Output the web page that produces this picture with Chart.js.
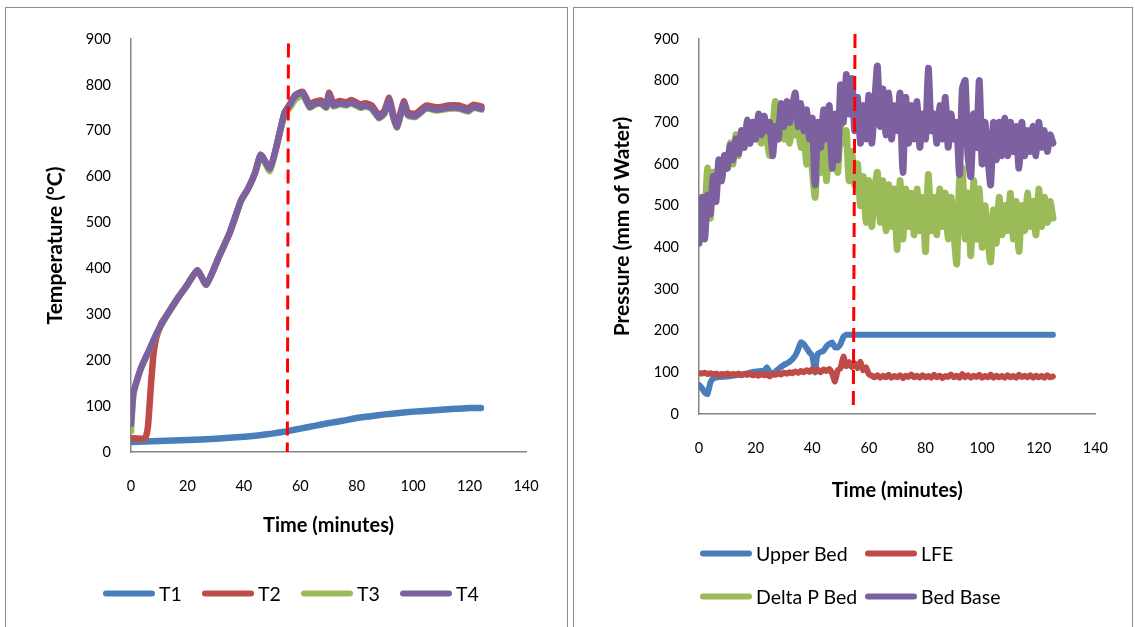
<!DOCTYPE html>
<html>
<head>
<meta charset="utf-8">
<script src="https://cdn.jsdelivr.net/npm/chart.js@4.4.1/dist/chart.umd.min.js"></script>
<style>
  body { margin: 0; background: #fff; width: 1135px; height: 627px; overflow: hidden; position: relative; font-family: Lato, sans-serif; }
  .panel { position: absolute; top: 7px; height: 640px; border: 1px solid #8c8c8c; box-sizing: border-box; }
  .panel canvas { position: absolute; left: 0; top: 0; }
  .leg { position: absolute; display: flex; align-items: center; font-size: 19.5px; color: #000; transform: translateY(-50%); white-space: nowrap; }
  .leg span.line { display: inline-block; width: 52px; height: 6px; border-radius: 3px; margin-right: 4px; }
</style>
</head>
<body>
<div class="panel" style="left:5px; width:563px;">
  <canvas id="tempChart" width="562" height="620"></canvas>
</div>
<div class="panel" style="left:573px; width:560px;">
  <canvas id="presChart" width="560" height="620"></canvas>
</div>
<div id="legends"></div>
<script>
// ---- temperature chart data (minutes, degC) ----
const t1Time = [0, 10, 20, 30, 40, 45, 50, 55, 60, 65, 70, 75, 80, 85, 90, 95, 100, 105, 110, 115, 120, 124];
const t1Temp = [22, 24, 26, 29, 33, 36, 40, 45, 51, 57, 63, 68, 74, 78, 82, 85, 88, 90, 92, 94, 96, 96];

const t2Time = [0, 5, 6, 7, 8, 9, 10, 11, 12.5, 17, 19.6, 23.5, 26.7, 31.2, 35, 37, 39, 41.5, 44, 46, 49.2, 51.2, 54.4, 56.3, 58.2, 60.8, 63.4, 65, 67.3, 69.2, 70.2, 71.8, 74, 76.3, 78, 81.4, 83, 85.3, 87.9, 89.8, 91.5, 93, 94.3, 96.7, 98.2, 100.8, 104.6, 108.5, 112.4, 116.2, 119.5, 121.4, 124.2];
const t2Temp = [30, 30, 55, 140, 215, 250, 268, 283, 296, 339, 361, 396, 365, 426, 478, 513, 548, 574, 609, 648, 617, 657, 739, 758, 778, 785, 757, 763, 766, 757, 783, 760, 765, 762, 767, 757, 760, 755, 734, 744, 772, 735, 714, 764, 740, 737, 755, 751, 755, 755, 749, 757, 753];

const t34Time = [0, 0.9, 3.5, 6.7, 9.3, 12.5, 17, 19.6, 23.5, 26.7, 31.2, 35, 37, 39, 41.5, 44, 46, 49.2, 51.2, 54.4, 56.3, 58.2, 60.8, 63.4, 65, 67.3, 69.2, 70.2, 71.8, 74, 76.3, 78, 81.4, 83, 85.3, 87.9, 89.8, 91.5, 93, 94.3, 96.7, 98.2, 100.8, 104.6, 108.5, 112.4, 116.2, 119.5, 121.4, 124.2];
const t3Temp = [45, 128, 181, 225, 260, 296, 339, 361, 396, 365, 426, 478, 513, 548, 574, 609, 645, 612, 655, 735, 750, 768, 778, 750, 756, 759, 750, 774, 753, 758, 755, 760, 750, 753, 748, 727, 737, 764, 728, 707, 756, 733, 730, 748, 744, 748, 748, 742, 750, 746];
const t4Temp = [61, 130, 183, 226, 261, 296, 339, 361, 396, 365, 426, 478, 513, 548, 574, 609, 648, 617, 657, 739, 757, 776, 783, 752, 758, 761, 752, 778, 755, 760, 757, 762, 752, 755, 750, 729, 739, 767, 730, 709, 759, 735, 732, 750, 746, 750, 750, 744, 752, 748];

// ---- pressure chart data (minutes, mm of water) ----
const upperBedTime = [0, 1, 2, 3, 4, 5, 7, 10, 15, 20, 23, 24, 25, 26, 28, 30, 32, 34, 35, 36, 37, 38, 39, 40, 41, 41.5, 42, 44, 45, 46, 47, 48, 49, 50, 51, 52, 125];
const upperBed = [70, 62, 52, 48, 75, 85, 89, 90, 95, 102, 104, 112, 100, 97, 108, 118, 125, 140, 155, 172, 168, 158, 148, 140, 100, 130, 145, 152, 162, 168, 172, 160, 160, 168, 185, 190, 190];

// one reading per minute, 0..125
const lfe = [98, 97, 99, 96, 98, 95, 97, 94, 96, 95, 97, 94, 96, 95, 97, 93, 96, 94, 97, 93,
  95, 92, 96, 93, 95, 90, 96, 94, 98, 95, 99, 97, 100, 98, 102, 99, 103, 100, 105, 101,
  108, 102, 106, 100, 107, 103, 108, 98, 78, 105, 110, 138, 115, 125, 112, 122, 110, 125, 105, 112,
  95, 92, 88, 93, 87, 92, 88, 94, 87, 91, 88, 93, 86, 92, 89, 95, 88, 92, 87, 93,
  88, 91, 87, 94, 88, 92, 86, 91, 89, 95, 88, 92, 87, 96, 88, 93, 87, 92, 89, 94,
  87, 91, 88, 95, 87, 92, 88, 91, 87, 93, 88, 91, 87, 94, 89, 92, 88, 93, 87, 92,
  88, 91, 87, 93, 88, 90];
const deltaPBed = [430, 510, 460, 590, 470, 580, 540, 600, 560, 620, 590, 650, 600, 670, 620, 680, 640, 690, 650, 700,
  660, 690, 650, 700, 660, 620, 680, 750, 660, 700, 660, 690, 650, 700, 670, 690, 640, 680, 600, 660,
  590, 520, 640, 580, 670, 560, 650, 590, 660, 580, 690, 650, 680, 560, 630, 550, 600, 500, 570, 460,
  560, 450, 540, 580, 460, 560, 440, 550, 450, 540, 395, 560, 420, 540, 450, 530, 430, 540, 440, 520,
  390, 575, 440, 520, 430, 540, 450, 530, 420, 520, 440, 360, 560, 590, 420, 530, 380, 560, 420, 540,
  400, 500, 420, 365, 490, 410, 520, 430, 500, 440, 530, 420, 510, 390, 500, 440, 530, 450, 510, 430,
  540, 450, 520, 460, 510, 470];
const bedBase = [410, 520, 420, 525, 480, 570, 510, 610, 560, 620, 590, 645, 610, 660, 625, 680, 640, 705, 650, 700,
  660, 720, 670, 715, 680, 700, 620, 690, 660, 745, 690, 750, 700, 740, 770, 690, 745, 680, 730, 660,
  710, 550, 700, 640, 730, 660, 740, 590, 720, 610, 790, 700, 815, 720, 805, 680, 760, 650, 740, 660,
  765, 650, 740, 835, 690, 780, 670, 770, 660, 740, 680, 770, 580, 760, 650, 740, 660, 750, 640, 720,
  660, 830, 680, 720, 650, 740, 660, 760, 640, 720, 660, 700, 575, 780, 800, 620, 570, 720, 640, 800,
  600, 700, 620, 550, 700, 610, 700, 620, 710, 620, 700, 630, 690, 590, 700, 620, 680, 630, 690, 620,
  700, 640, 680, 630, 670, 650];

// time of the marked event (red dashed line)
const tempEventTime = [55.8, 55.4];
const tempEventTemp = [890, 0];
const presEventTime = [55.1, 54.5];
const presEventPres = [912, 5];

const yTicks = { min: 0, max: 900, step: 100 };
const xTicks = { min: 0, max: 140, step: 20 };

const colors = { blue: '#4A7EBB', red: '#BE4B48', green: '#9BBB59', purple: '#7D60A0' };

function pts(xs, ys) {
  return xs.map((x, i) => ({ x: x, y: ys[i] }));
}

function series(label, data, color, order, width) {
  return {
    label: label,
    data: data,
    borderColor: color,
    backgroundColor: color,
    borderWidth: width,
    pointRadius: 0,
    tension: 0.15,
    borderCapStyle: 'round',
    borderJoinStyle: 'round',
    fill: false,
    order: order
  };
}

function eventLine(xs, ys) {
  return {
    label: 'event',
    data: pts(xs, ys),
    borderColor: '#FF0000',
    borderWidth: 3,
    borderDash: [14, 7],
    pointRadius: 0,
    clip: false,
    order: 0
  };
}

function makeOptions(yTitle, pad, yWidth, xHeight) {
  return {
    responsive: false,
    animation: false,
    devicePixelRatio: 1,
    layout: { padding: pad },
    plugins: { legend: { display: false }, tooltip: { enabled: false } },
    scales: {
      x: {
        type: 'linear',
        min: xTicks.min,
        max: xTicks.max,
        grid: { display: false, drawTicks: false },
        border: { display: true, color: '#868686', width: 1.5 },
        ticks: { stepSize: xTicks.step, padding: 26, color: '#000', font: { family: 'Lato', size: 14.5 } },
        title: { display: true, text: 'Time (minutes)', color: '#000', padding: 0, font: { family: 'Lato', size: 20, weight: 'bold' } },
        afterFit: (scale) => { scale.height = xHeight; }
      },
      y: {
        min: yTicks.min,
        max: yTicks.max,
        grid: { display: false, drawTicks: false },
        border: { display: true, color: '#868686', width: 1.5 },
        ticks: { stepSize: yTicks.step, padding: 20, color: '#000', font: { family: 'Lato', size: 14.5 } },
        title: { display: true, text: yTitle, color: '#000', padding: 0, font: { family: 'Lato', size: 21, weight: 'bold' } },
        afterFit: (scale) => { scale.width = yWidth; }
      }
    }
  };
}

new Chart(document.getElementById('tempChart'), {
  type: 'line',
  data: {
    datasets: [
      series('T1', pts(t1Time, t1Temp), colors.blue, 4, 6.5),
      series('T2', pts(t2Time, t2Temp), colors.red, 3, 6.5),
      series('T3', pts(t34Time, t3Temp), colors.green, 2, 6.5),
      series('T4', pts(t34Time, t4Temp), colors.purple, 1, 6.5),
      eventLine(tempEventTime, tempEventTemp)
    ]
  },
  options: makeOptions('Temperature (°C)', { left: 37, top: 31, right: 42, bottom: 90 }, 88, 86)
});

const minutes = bedBase.map((_, i) => i);

new Chart(document.getElementById('presChart'), {
  type: 'line',
  data: {
    datasets: [
      series('Upper Bed', pts(upperBedTime, upperBed), colors.blue, 4, 6),
      series('LFE', pts(minutes, lfe), colors.red, 3, 6),
      series('Delta P Bed', pts(minutes, deltaPBed), colors.green, 2, 7),
      series('Bed Base', pts(minutes, bedBase), colors.purple, 1, 7),
      eventLine(presEventTime, presEventPres)
    ]
  },
  options: makeOptions('Pressure (mm of Water)', { left: 36, top: 31, right: 36, bottom: 125 }, 89, 89)
});

// legends laid out like the spreadsheet ones
const legendItems = [
  { text: 'T1', color: colors.blue, x: 103, y: 593 },
  { text: 'T2', color: colors.red, x: 202, y: 593 },
  { text: 'T3', color: colors.green, x: 301, y: 593 },
  { text: 'T4', color: colors.purple, x: 400, y: 593 },
  { text: 'Upper Bed', color: colors.blue, x: 700, y: 553 },
  { text: 'LFE', color: colors.red, x: 865, y: 553 },
  { text: 'Delta P Bed', color: colors.green, x: 700, y: 596 },
  { text: 'Bed Base', color: colors.purple, x: 865, y: 596 }
];
const legendBox = document.getElementById('legends');
legendItems.forEach(item => {
  const div = document.createElement('div');
  div.className = 'leg';
  div.style.left = item.x + 'px';
  div.style.top = item.y + 'px';
  div.innerHTML = `<span class="line" style="background:${item.color}"></span><span>${item.text}</span>`;
  legendBox.appendChild(div);
});
</script>
</body>
</html>
